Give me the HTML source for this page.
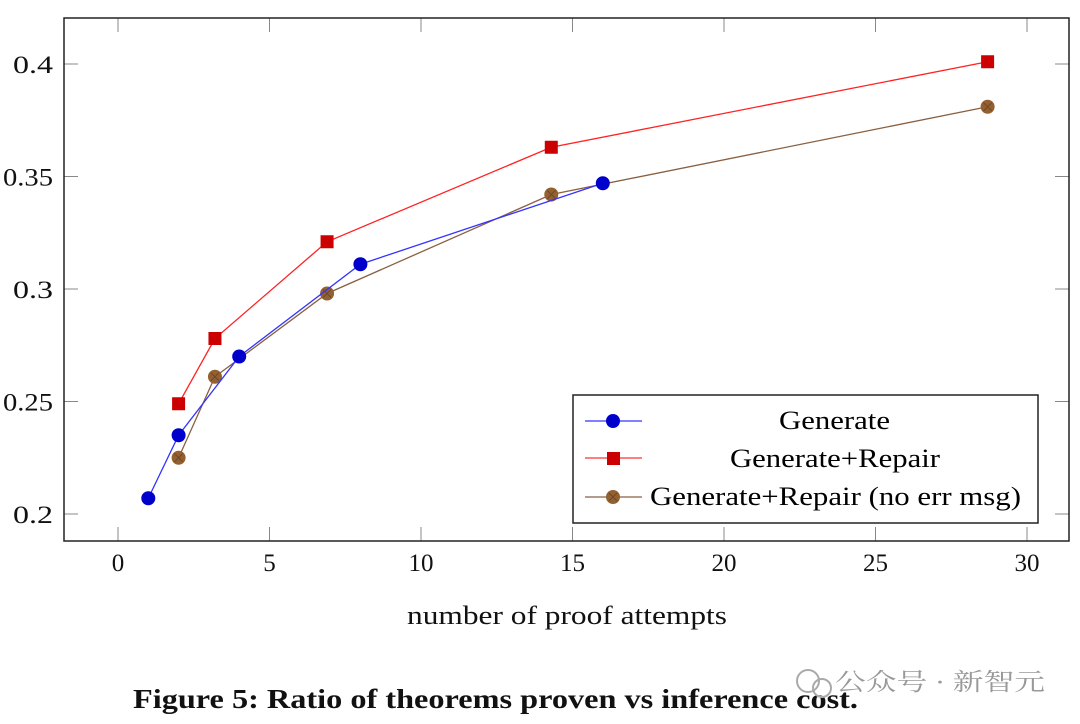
<!DOCTYPE html>
<html><head><meta charset="utf-8"><style>
body{margin:0;background:#fff;width:1080px;height:724px;overflow:hidden}
svg{display:block}
text{font-family:"Liberation Serif","Noto Serif CJK SC",serif}
</style></head><body>
<svg id="chart" width="1080" height="724">
<g id="grid"></g>
<rect x="64" y="18" width="1005" height="523" fill="none" stroke="#222" stroke-width="1.5"/>
<g id="series"></g>
<text x="407" y="624" font-size="26" textLength="320" lengthAdjust="spacingAndGlyphs" fill="#111">number of proof attempts</text>
<g>
<rect x="573" y="395" width="465" height="128" fill="#fff" stroke="#222" stroke-width="1.5"/>
<line x1="585" y1="421" x2="642" y2="421" stroke="#3333ff" stroke-width="1.3"/>
<circle cx="613" cy="421" r="7" fill="#0000cc"/>
<text x="779" y="429" font-size="26" textLength="111" lengthAdjust="spacingAndGlyphs">Generate</text>
<line x1="585" y1="458" x2="642" y2="458" stroke="#ff3333" stroke-width="1.3"/>
<rect x="607" y="452" width="13" height="13" fill="#cc0000"/>
<text x="730" y="467" font-size="26" textLength="210" lengthAdjust="spacingAndGlyphs">Generate+Repair</text>
<line x1="585" y1="497" x2="642" y2="497" stroke="#8a6040" stroke-width="1.3"/>
<circle cx="613" cy="497" r="7" fill="#946030"/>
<path d="M609 493L617 501M617 493L609 501" stroke="#6a4a2a" stroke-width="1"/>
<text x="650" y="505" font-size="26" textLength="371" lengthAdjust="spacingAndGlyphs">Generate+Repair (no err msg)</text>
</g>
<text x="133" y="708" font-size="27" font-weight="bold" textLength="725" lengthAdjust="spacingAndGlyphs" fill="#111">Figure 5: Ratio of theorems proven vs inference cost.</text>
<g>
<circle cx="808" cy="681" r="11" fill="none" stroke="#aaa" stroke-width="2"/>
<circle cx="822" cy="688" r="9" fill="none" stroke="#aaa" stroke-width="2"/>
<text x="835" y="690" font-size="24" textLength="210" lengthAdjust="spacingAndGlyphs" fill="#999" font-family="'Noto Sans CJK SC',sans-serif">公众号 · 新智元</text>
</g>
</svg>
<script>
const xTicks=[0,5,10,15,20,25,30];
const yTicks=[0.2,0.25,0.3,0.35,0.4];
const yTickLabels=["0.2","0.25","0.3","0.35","0.4"];
const genX=[1,2,4,8,16];
const genY=[0.207,0.235,0.270,0.311,0.347];
const repX=[2,3.2,6.9,14.3,28.7];
const repY=[0.249,0.278,0.321,0.363,0.401];
const noerrX=[2,3.2,6.9,14.3,28.7];
const noerrY=[0.225,0.261,0.298,0.342,0.381];
const NS="http://www.w3.org/2000/svg";
const sx=v=>118+v*30.3;
const sy=v=>514-(v-0.2)*2250;
function mk(t,a,p){const e=document.createElementNS(NS,t);for(const k in a)e.setAttribute(k,a[k]);p.appendChild(e);return e;}
const g=document.getElementById('grid');
xTicks.forEach(v=>{const x=sx(v);
mk('line',{x1:x,y1:541,x2:x,y2:527,stroke:'#888'},g);
mk('line',{x1:x,y1:18,x2:x,y2:32,stroke:'#888'},g);
const t=mk('text',{x:x,y:571,'font-size':25,'text-anchor':'middle',fill:'#111'},g);t.textContent=v;

});
yTicks.forEach((v,i)=>{const y=sy(v);
mk('line',{x1:64,y1:y,x2:78,y2:y,stroke:'#888'},g);
mk('line',{x1:1069,y1:y,x2:1055,y2:y,stroke:'#888'},g);
const t=mk('text',{x:53,y:y+9,'font-size':25,'text-anchor':'end',fill:'#111'},g);t.textContent=yTickLabels[i];
const L=yTickLabels[i].length;
t.setAttribute('textLength',L===4?50:40);
t.setAttribute('lengthAdjust','spacingAndGlyphs');

});
const s=document.getElementById('series');
function series(X,Y,col,name,marker){
const pl=mk('polyline',{points:X.map((x,i)=>sx(x)+','+sy(Y[i])).join(' '),fill:'none',stroke:col,'stroke-width':1.3},s);


X.forEach((x,i)=>{const cx=sx(x),cy=sy(Y[i]);let m;
if(marker==='c'){m=mk('circle',{cx:cx,cy:cy,r:7,fill:'#0000cc'},s);}
else if(marker==='s'){m=mk('rect',{x:cx-6.5,y:cy-6.5,width:13,height:13,fill:'#cc0000'},s);}
else{m=mk('circle',{cx:cx,cy:cy,r:7,fill:'#946030'},s);
mk('path',{d:`M${cx-4} ${cy-4}L${cx+4} ${cy+4}M${cx+4} ${cy-4}L${cx-4} ${cy+4}`,stroke:'#6a4a2a','stroke-width':1},s);}

});}
series(noerrX,noerrY,'#8a6040','no-err-msg','x');
series(genX,genY,'#3333ff','generate','c');
series(repX,repY,'#ff2222','generate-repair','s');
</script>
</body></html>
